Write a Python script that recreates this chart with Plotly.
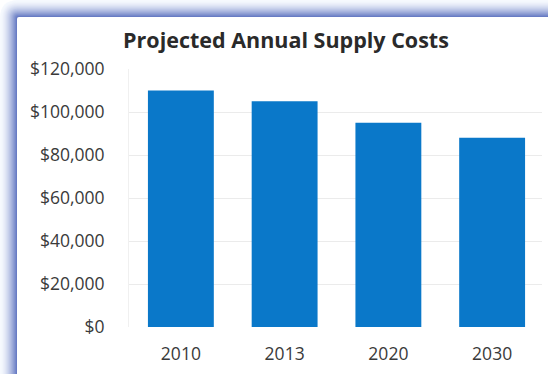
import base64
import plotly.graph_objects as go

# Chart data
years = ["2010", "2013", "2020", "2030"]
supply_costs = [110000, 105000, 95000, 88000]
tick_values = [0, 20000, 40000, 60000, 80000, 100000, 120000]
tick_labels = ["$0", "$20,000", "$40,000", "$60,000", "$80,000", "$100,000", "$120,000"]

W, H = 548, 374
M = dict(l=129, r=4, t=69, b=47)
PW = W - M["l"] - M["r"]
PH = H - M["t"] - M["b"]


def px(x):
    """Pixel x -> paper x."""
    return (x - M["l"]) / PW


def py(y):
    """Pixel y (from top) -> paper y."""
    return 1 - (y - M["t"]) / PH


def mix(c0, c1, t):
    return "rgb({},{},{})".format(*[round(a + (b - a) * t) for a, b in zip(c0, c1)])


def panel_path(k, r):
    """Card outline with a rounded top-left corner, open to the right and bottom."""
    return (f"M{k},{H} L{k},{k + r} Q{k},{k} {k + r},{k} L{W},{k} L{W},{H} Z")


# Gradient frame drawn as a small SVG background
outer = (246, 249, 254)
inner = (104, 124, 196)
steps = 17
parts = []
for k in range(steps):
    c = mix(outer, inner, (k / (steps - 1)) ** 1.6)
    parts.append(f'<path d="{panel_path(k, max(18 - k, 2))}" fill="{c}"/>')
parts.append(f'<path d="{panel_path(steps, 2)}" fill="#ffffff"/>')
svg = (f'<svg xmlns="http://www.w3.org/2000/svg" width="{W}" height="{H}" '
       f'viewBox="0 0 {W} {H}" shape-rendering="geometricPrecision">' + "".join(parts) + "</svg>")
frame_src = "data:image/svg+xml;base64," + base64.b64encode(svg.encode()).decode()

# Keep the open right and bottom sides of the card clean white
edge_cover = [
    dict(type="rect", xref="paper", yref="paper", layer="above",
         x0=px(W - 6), x1=px(W + 10), y0=py(H + 10), y1=py(24),
         fillcolor="white", line=dict(width=0)),
    dict(type="rect", xref="paper", yref="paper", layer="above",
         x0=px(24), x1=px(W + 10), y0=py(H + 10), y1=py(H - 6),
         fillcolor="white", line=dict(width=0)),
]

fig = go.Figure(
    go.Bar(
        x=years,
        y=supply_costs,
        marker=dict(color="#0a78c9", line=dict(width=0)),
        width=0.635,
    )
)

fig.update_layout(
    width=W,
    height=H,
    margin=M,
    paper_bgcolor="white",
    plot_bgcolor="rgba(0,0,0,0)",
    showlegend=False,
    shapes=edge_cover,
    images=[dict(source=frame_src, xref="paper", yref="paper",
                 x=px(0), y=py(0), sizex=px(W) - px(0), sizey=py(0) - py(H),
                 xanchor="left", yanchor="top", sizing="stretch", layer="below")],
    font=dict(family="Open Sans, Noto Sans, sans-serif", color="#3a3a3a"),
    title=dict(
        text="<b>Projected Annual Supply Costs</b>",
        x=px(286), xanchor="center", xref="paper",
        y=1 - 40 / H, yanchor="middle",
        font=dict(size=21.5, color="#2a2a2a"),
    ),
)

fig.update_xaxes(
    type="category",
    showgrid=False,
    showline=False,
    ticks="",
    tickfont=dict(size=17.5),
    ticklabelstandoff=14,
)

fig.update_yaxes(
    range=[0, 120000],
    tickvals=tick_values,
    ticktext=tick_labels,
    showgrid=True,
    gridcolor="#ebebeb",
    gridwidth=1,
    zeroline=False,
    showline=True,
    linecolor="#f0f0f0",
    ticks="",
    tickfont=dict(size=17.5),
    ticklabelstandoff=20,
)

fig.write_html("out.html")
